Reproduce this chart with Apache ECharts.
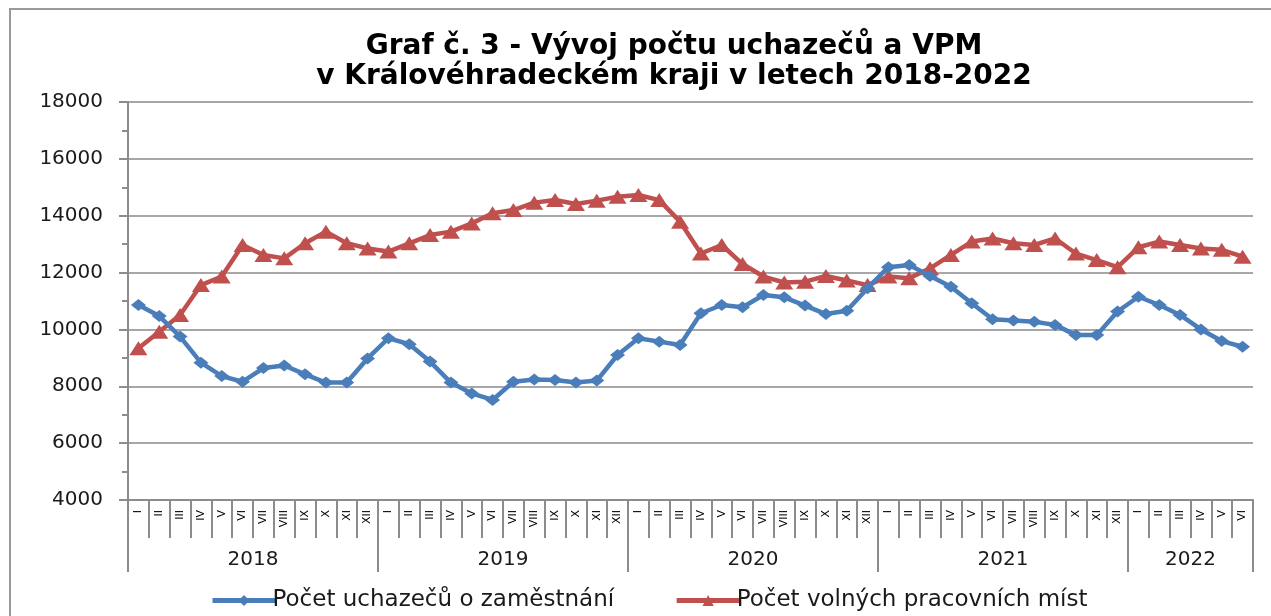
<!DOCTYPE html>
<html>
<head>
<meta charset="utf-8">
<script src="https://cdn.jsdelivr.net/npm/echarts@6/dist/echarts.min.js"></script>
<style>
html,body{margin:0;padding:0;background:#fff;}
#chart{width:1271px;height:616px;}
</style>
</head>
<body>
<div id="chart"></div>
<script>
// ---- data ----
const years = ['2018', '2019', '2020', '2021', '2022'];
const monthsPerYear = [12, 12, 12, 12, 6];
const romanMonths = ['I','II','III','IV','V','VI','VII','VIII','IX','X','XI','XII'];
const yTicks = [4000, 6000, 8000, 10000, 12000, 14000, 16000, 18000];

const uchazeci = [
  10860, 10470, 9750, 8830, 8360, 8160, 8640, 8730, 8420, 8130, 8130, 8980,
  9690, 9480, 8870, 8130, 7750, 7520, 8160, 8240, 8220, 8130, 8200, 9100,
  9690, 9570, 9450, 10570, 10860, 10780, 11210, 11130, 10840, 10540, 10660, 11450,
  12190, 12270, 11880, 11500, 10920, 10360, 10310, 10270, 10160, 9800, 9800, 10630,
  11150, 10860, 10510, 10000, 9590, 9390
];
const volnaMista = [
  9340, 9920, 10510, 11560, 11860, 12970, 12620, 12500, 13030, 13440, 13030, 12850,
  12740, 13030, 13320, 13440, 13730, 14090, 14200, 14460, 14550, 14410, 14530, 14670,
  14730, 14550, 13790, 12670, 12970, 12300, 11860, 11650, 11680, 11880, 11720, 11560,
  11860, 11800, 12150, 12620, 13090, 13200, 13030, 12970, 13200, 12670, 12440, 12190,
  12890, 13090, 12970, 12850, 12800, 12560
];
const seriesNames = ['Počet uchazečů o zaměstnání', 'Počet volných pracovních míst'];
const titleText = 'Graf č. 3 - Vývoj počtu uchazečů a VPM\nv Královéhradeckém kraji v letech 2018-2022';

// ---- derived axis categories ----
const monthCats = [];
monthsPerYear.forEach((n, yi) => {
  for (let m = 0; m < n; m++) monthCats.push(years[yi] + '-' + romanMonths[m]);
});
const totalMonths = monthCats.length;
// half-month point axis for year grouping
const halfCats = [];
const yearLabelIdx = {};
const yearTickIdx = new Set([0]);
let acc = 0;
monthsPerYear.forEach((n, yi) => {
  yearLabelIdx[(acc + n / 2) * 2] = years[yi];
  acc += n;
  yearTickIdx.add(acc * 2);
});
for (let k = 0; k <= totalMonths * 2; k++) halfCats.push(yearLabelIdx[k] || '');

const gray = '#8c8c8c';
const chart = echarts.init(document.getElementById('chart'));
chart.setOption({
  animation: false,
  backgroundColor: '#ffffff',
  title: {
    text: titleText,
    left: 674,
    top: 32,
    padding: 0,
    textAlign: 'center',
    textStyle: {
      fontFamily: 'DejaVu Sans',
      fontWeight: 'bold',
      fontSize: 28,
      lineHeight: 30,
      color: '#000'
    }
  },
  graphic: [{
    type: 'rect',
    shape: { x: 10, y: 9, width: 1400, height: 700 },
    style: { fill: 'none', stroke: '#9a9a9a', lineWidth: 2 },
    silent: true
  }],
  legend: {
    left: 205,
    top: 584,
    itemWidth: 63,
    itemHeight: 14,
    itemGap: 60,
    lineStyle: { width: 5 },
    textStyle: { fontFamily: 'DejaVu Sans', fontSize: 23, color: '#1a1a1a', padding: [0, 0, 0, -8] },
    data: seriesNames
  },
  grid: { left: 128, right: 18, top: 102, bottom: 116, containLabel: false },
  xAxis: [{
    type: 'category',
    data: monthCats,
    boundaryGap: true,
    position: 'bottom',
    axisLine: { show: true, lineStyle: { color: gray, width: 2 } },
    axisTick: { show: true, interval: 0, length: 38, lineStyle: { color: gray, width: 2 } },
    axisLabel: {
      interval: 0,
      rotate: 90,
      margin: 10,
      fontFamily: 'DejaVu Sans',
      fontSize: 11,
      color: '#000',
      formatter: v => v.split('-')[1]
    },
    splitLine: { show: false }
  }, {
    type: 'category',
    data: halfCats,
    boundaryGap: false,
    position: 'bottom',
    axisLine: { show: false },
    axisTick: {
      show: true,
      length: 72,
      interval: idx => yearTickIdx.has(idx),
      lineStyle: { color: gray, width: 2 }
    },
    axisLabel: {
      interval: idx => halfCats[idx] !== '',
      margin: 50,
      fontFamily: 'DejaVu Sans',
      fontSize: 20,
      color: '#1a1a1a'
    },
    splitLine: { show: false }
  }],
  yAxis: {
    type: 'value',
    min: yTicks[0],
    max: yTicks[yTicks.length - 1],
    interval: yTicks[1] - yTicks[0],
    axisLine: { show: true, lineStyle: { color: gray, width: 2 } },
    axisTick: { show: true, length: 9, lineStyle: { color: gray, width: 2 } },
    minorTick: { show: true, splitNumber: 2, length: 6, lineStyle: { color: gray, width: 2 } },
    axisLabel: {
      fontFamily: 'DejaVu Sans', fontSize: 20, color: '#1a1a1a', margin: 25,
      formatter: v => String(v)
    },
    splitLine: { show: true, lineStyle: { color: '#8a8a8a', width: 1.5 } }
  },
  series: [{
    name: seriesNames[0],
    type: 'line',
    data: uchazeci,
    xAxisIndex: 0,
    symbol: 'diamond',
    symbolSize: [15, 12],
    lineStyle: { color: '#4a7ebb', width: 4.5 },
    itemStyle: { color: '#4a7ebb' },
    z: 3
  }, {
    name: seriesNames[1],
    type: 'line',
    data: volnaMista,
    xAxisIndex: 0,
    symbol: 'triangle',
    symbolSize: [18, 14],
    lineStyle: { color: '#c0504d', width: 4.5 },
    itemStyle: { color: '#c0504d' },
    z: 2
  }]
});
</script>
</body>
</html>
